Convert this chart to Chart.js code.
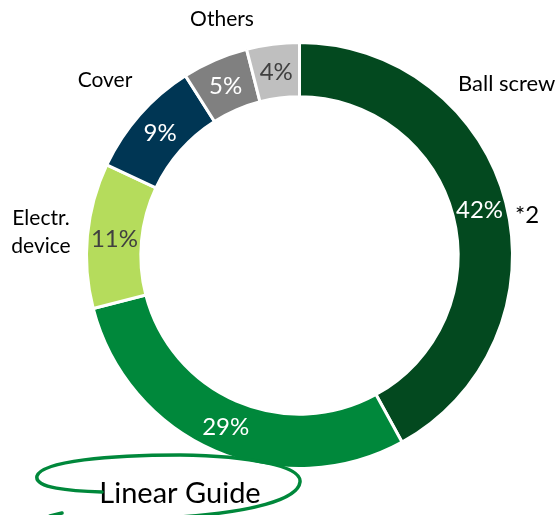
<!DOCTYPE html>
<html>
<head>
<meta charset="utf-8">
<script src="https://cdn.jsdelivr.net/npm/chart.js@4/dist/chart.umd.min.js"></script>
<style>
  html, body { margin: 0; padding: 0; background: #fff; }
  #wrap { width: 558px; height: 515px; }
</style>
</head>
<body>
<div id="wrap"><canvas id="share-chart" width="558" height="515"></canvas></div>
<script>
// sales share by product, clockwise from 12 o'clock
const categories = ['Ball screw', 'Linear Guide', 'Electr. device', 'Cover', 'Others', 'Others (2)']
const shares = [42, 29, 11, 9, 5, 4]
const sliceColors = ['#03491f', '#00883b', '#b5dc5c', '#003654', '#808080', '#bfbfbf']
const valueColors = ['#ffffff', '#ffffff', '#404040', '#ffffff', '#ffffff', '#404040']

const FONT = 'Lato, "Open Sans", sans-serif'

// percentages drawn in the middle of each slice
const valueLabels = {
  id: 'valueLabels',
  afterDatasetsDraw(chart) {
    const ctx = chart.ctx
    const arcs = chart.getDatasetMeta(0).data
    ctx.save()
    ctx.font = '24px ' + FONT
    ctx.textAlign = 'center'
    ctx.textBaseline = 'middle'
    arcs.forEach((arc, i) => {
      const p = arc.getCenterPoint()
      ctx.fillStyle = valueColors[i]
      ctx.fillText(shares[i] + '%', p.x, p.y + 1)
    })
    ctx.restore()
  }
}

// category names + the hand-drawn ring round "Linear Guide"
const annotations = {
  id: 'annotations',
  afterDraw(chart) {
    const ctx = chart.ctx
    ctx.save()
    ctx.fillStyle = '#000'
    ctx.textBaseline = 'middle'
    ctx.textAlign = 'center'
    ctx.font = '21px ' + FONT
    ctx.fillText('Others', 222, 19)
    ctx.fillText('Cover', 105, 80)
    ctx.fillText('Electr.', 41, 218)
    ctx.fillText('device', 41, 246)
    ctx.textAlign = 'left'
    ctx.font = '22px ' + FONT
    ctx.fillText('Ball screw', 458, 84)
    ctx.font = '24px ' + FONT
    ctx.fillText('*2', 515, 215)

    ctx.textAlign = 'center'
    ctx.font = '29px ' + FONT
    ctx.fillText('Linear Guide', 180, 494)

    ctx.strokeStyle = '#00883b'
    ctx.lineWidth = 3.5
    ctx.lineCap = 'round'
    ctx.beginPath()
    ctx.moveTo(102, 492)
    ctx.bezierCurveTo(70, 491, 34, 488, 37, 476)
    ctx.bezierCurveTo(42, 461, 110, 455, 180, 455)
    ctx.bezierCurveTo(250, 456, 302, 466, 300, 482)
    ctx.bezierCurveTo(298, 500, 250, 512, 180, 517)
    ctx.stroke()
    ctx.beginPath()
    ctx.moveTo(50, 516)
    ctx.lineTo(62, 513)
    ctx.stroke()
    ctx.restore()
  }
}

const config = {
  type: 'doughnut',
  data: {
    labels: categories,
    datasets: [{
      data: shares,
      backgroundColor: sliceColors,
      borderColor: '#ffffff',
      borderWidth: 3,
      hoverOffset: 0
    }]
  },
  options: {
    responsive: false,
    animation: false,
    cutout: '74.5%',
    layout: { padding: { left: 85, right: 44, top: 41, bottom: 45 } },
    plugins: {
      legend: { display: false },
      tooltip: { enabled: false }
    }
  },
  plugins: [valueLabels, annotations]
}

const myChart = new Chart(document.getElementById('share-chart'), config)
</script>
</body>
</html>
